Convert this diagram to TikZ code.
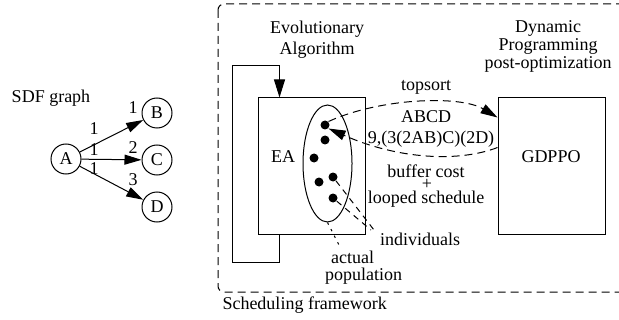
\documentclass[tikz,border=0pt]{standalone}
\usepackage{fontspec}
\setmainfont{Liberation Serif}
\usetikzlibrary{positioning,arrows.meta,shapes,calc}
\tikzset{sdf node/.style={circle,draw,minimum
size=15pt,inner sep=0pt},
box/.style={draw,minimum width=53.5pt,minimum height=68pt},
dot/.style={circle,fill,minimum size=4.5pt,inner sep=0pt},
tip/.style={-{Triangle[length=8.5pt,width=5pt]}},
leader/.style={dash pattern=on 3pt off 2.5pt}}

\begin{document}
\begin{tikzpicture}[x=0.5pt,y=-0.5pt,line width=0.5pt,
    font=\fontsize{9}{10.5}\selectfont]
    \useasboundingbox (0,0) rectangle (619,320);

    % SDF graph
    \node (sdf) at (51,98) {SDF graph};
    \node[sdf node] (A) at (66,159) {A};
    \node[sdf node] (B) at (157,113) {B};
            \node[sdf node] (C) [below=8pt of B] {C};
            \node[sdf node] (D) [below=8pt of C] {D};

            \foreach \n in {B,C,D}
            \draw[tip] (A)--(\n);

            \node (ab1) at (94,129) {1};
            \node (ac1) at (94,150) {1};
            \node (ad1) at (94,169) {1};
            \node (ab2) at (133,108) {1};
            \node (ac2) at (133,148) {2};
            \node (ad2) at (133,180) {3};

    % scheduling framework
    \draw[dash pattern=on 4pt off 2.5pt,rounded corners=3pt]
            (218,4) rectangle (660,292);
    \node[anchor=west,inner sep=0pt] (frame) at (222,305) {Scheduling framework};

    \node[align=center] (ea title) at (317,39.5) {Evolutionary\\Algorithm};
    \node[box] (ea box) at (311.5,166) {};
    \node (ea) at (283,157) {EA};
    \node[draw,ellipse,minimum width=24.5pt,minimum height=58.5pt,
            inner sep=0pt] (pop) at (327.5,163.5) {};
            \node[dot] (d1) at (325,125) {};
            \node[dot] (d2) at (325,140) {};
            \node[dot] (d3) at (314,158) {};
            \node[dot] (d4) at (319,182) {};
            \node[dot] (d5) at (333,177) {};
            \node[dot] (d6) at (333,198) {};

    \draw[-{Triangle[length=9pt,width=5.5pt]}]
            ([xshift=11pt]ea box.south west) -- ++(0,28) -- ++(-47,0)
            |- ++(47,-197) -- ([xshift=11pt]ea box.north west);

    \node[align=center,font=\fontsize{9}{9}\selectfont] (dp title) at (548,46)
            {Dynamic\\Programming\\post-optimization};
    \node[box] (gdppo box) at (551.5,166) {};
    \node (gdppo) at (551,157) {GDPPO};

    \draw[dash pattern=on 4pt off 2.5pt,tip] (d1.north east)
            .. controls (380,98) and (460,95) .. ([yshift=-10pt]gdppo box.north west);
    \draw[dash pattern=on 4pt off 2.5pt,tip] ([yshift=-25pt]gdppo box.north west)
            .. controls (460,162) and (400,160) .. (d1.south east);

            \node (topsort) at (426,87) {topsort};
            \node (abcd) at (426,117) {ABCD};
            \node (sched) at (431,139) {9,(3(2AB)C)(2D)};
            \node[inner sep=0pt] (cost) at (426,171) {buffer cost};
            \node[inner sep=0pt] (plus) at (427,184.5) {+};
            \node[inner sep=0pt] (looped) at (426,199) {looped schedule};
            \node (ind) at (420,239) {individuals};
            \node (actual) at (352.5,257) {actual};
            \node (popl) at (363.5,276) {population};

    \coordinate (i1) at (374,230);
    \coordinate (i2) at (371,230);
    \coordinate (a1) at (340,247);
    \draw[leader] (d5) -- (i1);
    \draw[leader] (d6) -- (i2);
    \draw[dash pattern=on 1.2pt off 2.5pt] (pop.south) -- (a1);
\end{tikzpicture}
\end{document}
